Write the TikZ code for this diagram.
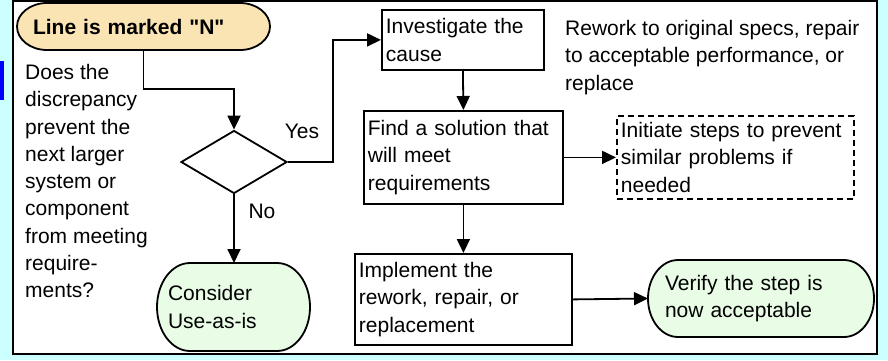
\documentclass[tikz,border=0pt]{standalone}
\usepackage{fontspec}
\setmainfont{Liberation Sans}
\usetikzlibrary{arrows.meta,shapes.geometric,backgrounds}
\definecolor{pagecyan}{HTML}{CCFFFF}
\definecolor{startfill}{HTML}{FBE4B4}
\definecolor{endfill}{HTML}{E8FCE6}
\tikzset{
	txt/.style={font=\fontsize{21}{27.3}\selectfont, inner sep=0pt, align=left},
	stepbox/.style={txt, draw, line width=1.8pt, fill=white, anchor=north west, inner xsep=4pt},
	pillbox/.style={txt, anchor=west, outer sep=0pt},
	flow/.style={line width=1.8pt, -{Triangle[length=14pt,width=13pt]}},
}
% rounded end box behind a node: node, end bulge, half height, fill
\newcommand{\pillpath}[4]{%
	\draw[line width=1.8pt, fill=#4] ([xshift=#2]#1.north west) -- ([xshift=-#2]#1.north east)
		arc[start angle=90, end angle=-90, x radius=#2, y radius=#3]
		-- ([xshift=#2]#1.south west)
		arc[start angle=270, end angle=90, x radius=#2, y radius=#3] -- cycle;}
\begin{document}
\begin{tikzpicture}[x=1pt,y=-1pt]
					% page backdrop
					\useasboundingbox (0,0) rectangle (888,360);
					\begin{scope}[on background layer]
						\fill[pagecyan] (0,0) rectangle (888,360);
						\fill[blue] (0,61) rectangle (4,100);
						\draw[line width=2pt, fill=white] (13,1) rectangle (877,354);
					\end{scope}

					% start and question
					\node[pillbox, font=\fontsize{21}{27.3}\selectfont\bfseries,
						text width=221pt, inner xsep=16pt, minimum height=47pt] (start) at (17,26.5)
						{Line is marked \textquotedbl N\textquotedbl};
					\node[txt, anchor=north west] (question) at (25,64)
						{Does the\\discrepancy\\prevent the\\next larger\\system or\\component\\from meeting\\require-\\ments?};

					% decision
					\node[diamond, draw, line width=1.8pt, minimum width=106pt, minimum height=63pt, inner sep=0pt] (dia) at (234,162) {};
					\node[txt] (yes) at (302,131.5) {Yes};
					\node[txt] (no) at (262,211) {No};
					\node[pillbox, text width=131pt, inner xsep=11pt, minimum height=88pt] (cons) at (157,307) {Consider\\Use-as-is};

					% steps
					\node[stepbox, text width=154pt, minimum height=60pt] (inv) at (381,9) {Investigate the\\cause};
					\node[txt, anchor=north west] (rework) at (565,20)
						{Rework to original specs, repair\\to acceptable performance, or\\replace};
					\node[stepbox, text width=191pt, minimum height=93pt] (find) at (363,110) {Find a solution that\\will meet\\requirements};
					\node[stepbox, dashed, dash pattern=on 6pt off 4pt, text width=229pt, minimum height=83pt] (initsteps) at (616,115)
						{Initiate steps to prevent\\similar problems if\\needed};
					\node[stepbox, text width=209pt, minimum height=91pt] (impl) at (354,253) {Implement the\\rework, repair, or\\replacement};
					\node[pillbox, text width=192pt, inner xsep=17pt, minimum height=77pt] (verify) at (648,298.5) {Verify the step is\\now acceptable};

					% rounded ends
					\begin{scope}[on background layer]
						\pillpath{start}{30pt}{23.5pt}{startfill}
						\pillpath{cons}{33pt}{44pt}{endfill}
						\pillpath{verify}{30pt}{38.5pt}{endfill}
					\end{scope}

					% connectors
					\coordinate (jog1) at (190,89);
					\coordinate (jog2) at (333,100);
					\draw[flow] (start.south) |- (jog1) -| (dia.north);
					\draw[flow] (dia.east) -| (jog2) |- (inv.west);
					\draw[flow] (dia.south) -- (dia.south |- cons.north);
					\draw[flow] (inv.south) -- (find.north);
					\draw[flow] (find.east) -- (initsteps.west);
					\draw[flow] (find.south) -- (impl.north);
					\draw[flow] (impl.east) -- (verify.west);
\end{tikzpicture}
\end{document}
